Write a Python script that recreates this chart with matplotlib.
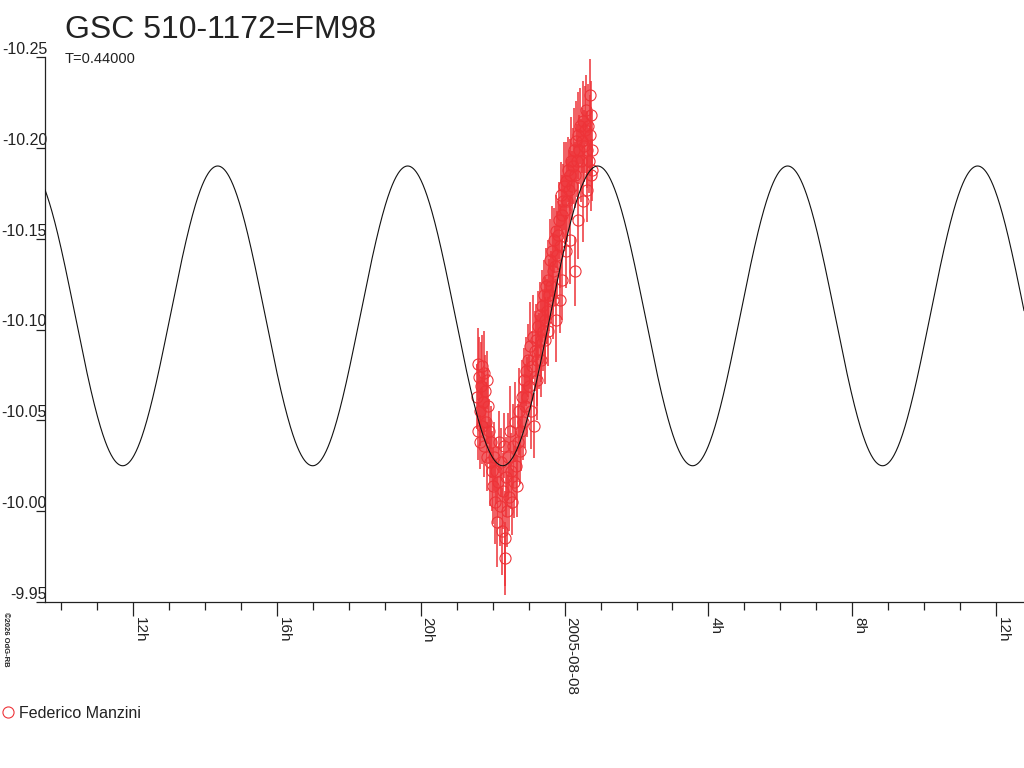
import numpy as np
import matplotlib
matplotlib.use("Agg")
import matplotlib.pyplot as plt
from matplotlib.lines import Line2D

# observation times, hours from 2005-08-08 00:00 UT
HOURS = [
    -2.444, -2.417, -2.417, -2.389, -2.361, -2.361, -2.333, -2.306, -2.306, -2.278,
    -2.250, -2.250, -2.222, -2.194, -2.167, -2.167, -2.139, -2.111, -2.083, -2.056,
    -2.028, -2.000, -1.972, -1.944, -1.917, -1.889, -1.861, -1.833, -1.806, -1.778,
    -1.750, -1.722, -1.694, -1.667, -1.667, -1.639, -1.611, -1.583, -1.556, -1.528,
    -1.500, -1.472, -1.444, -1.417, -1.389, -1.361, -1.333, -1.306, -1.278, -1.250,
    -1.222, -1.194, -1.167, -1.139, -1.111, -1.083, -1.056, -1.028, -1.000, -0.972,
    -0.944, -0.917, -0.889, -0.861, -0.833, -0.806, -0.778, -0.750, -0.722, -0.694,
    -0.667, -0.639, -0.611, -0.583, -0.556, -0.528, -0.500, -0.472, -0.444, -0.417,
    -0.389, -0.361, -0.333, -0.306, -0.278, -0.250, -0.222, -0.194, -0.167, -0.139,
    -0.111, -0.083, -0.056, -0.028, 0.000, 0.028, 0.056, 0.083, 0.111, 0.139,
    0.167, 0.194, 0.222, 0.250, 0.278, 0.306, 0.333, 0.361, 0.389, 0.417,
    0.444, 0.472, 0.500, 0.528, 0.556, 0.583, 0.611, 0.639, 0.667, 0.694,
    0.694, 0.722, 0.750, 0.750, -0.778, -0.667, -0.556, -0.472, -0.333, -0.250,
    -0.139, -0.083, 0.028, 0.139, 0.278, 0.361, 0.500, 0.611, 0.722,
]
MAGS = [
    -10.063, -10.081, -10.044, -10.074, -10.055, -10.038, -10.069, -10.080, -10.047, -10.060,
    -10.076, -10.036, -10.066, -10.049, -10.072, -10.030, -10.058, -10.044, -10.027, -10.038,
    -10.022, -10.014, -10.030, -10.005, -10.022, -9.994, -10.016, -10.038, -10.003, -10.027,
    -9.989, -10.011, -10.036, -9.974, -9.985, -10.019, -10.000, -10.030, -10.008, -10.044,
    -10.022, -10.005, -10.036, -10.016, -10.049, -10.025, -10.014, -10.038, -10.055, -10.033,
    -10.044, -10.063, -10.049, -10.072, -10.058, -10.077, -10.063, -10.083, -10.069, -10.091,
    -10.055, -10.080, -10.096, -10.047, -10.088, -10.094, -10.083, -10.102, -10.088, -10.108,
    -10.094, -10.113, -10.099, -10.119, -10.105, -10.124, -10.110, -10.127, -10.119, -10.138,
    -10.124, -10.143, -10.132, -10.149, -10.135, -10.154, -10.141, -10.152, -10.160, -10.146,
    -10.174, -10.163, -10.171, -10.179, -10.166, -10.182, -10.171, -10.188, -10.177, -10.185,
    -10.193, -10.179, -10.190, -10.199, -10.185, -10.204, -10.193, -10.207, -10.199, -10.212,
    -10.193, -10.204, -10.215, -10.201, -10.210, -10.221, -10.199, -10.212, -10.193, -10.229,
    -10.207, -10.218, -10.188, -10.199, -10.072, -10.083, -10.094, -10.099, -10.116, -10.105,
    -10.116, -10.127, -10.143, -10.149, -10.132, -10.160, -10.171, -10.177, -10.185,
]
ERRS = [
    0.018, 0.020, 0.016, 0.022, 0.019, 0.015, 0.024, 0.017, 0.021, 0.018,
    0.023, 0.017, 0.020, 0.022, 0.016, 0.019, 0.021, 0.018, 0.024, 0.020,
    0.022, 0.021, 0.019, 0.023, 0.018, 0.025, 0.020, 0.017, 0.022, 0.019,
    0.024, 0.021, 0.018, 0.020, 0.026, 0.022, 0.020, 0.024, 0.019, 0.025,
    0.021, 0.018, 0.023, 0.020, 0.022, 0.019, 0.017, 0.021, 0.024, 0.018,
    0.022, 0.020, 0.021, 0.018, 0.023, 0.019, 0.022, 0.020, 0.017, 0.024,
    0.021, 0.019, 0.023, 0.018, 0.022, 0.020, 0.025, 0.019, 0.021, 0.018,
    0.023, 0.020, 0.022, 0.019, 0.024, 0.021, 0.018, 0.022, 0.020, 0.023,
    0.019, 0.025, 0.021, 0.018, 0.022, 0.020, 0.024, 0.019, 0.021, 0.023,
    0.018, 0.022, 0.020, 0.024, 0.019, 0.021, 0.023, 0.018, 0.022, 0.020,
    0.024, 0.019, 0.021, 0.023, 0.018, 0.022, 0.020, 0.024, 0.019, 0.021,
    0.023, 0.018, 0.022, 0.020, 0.024, 0.019, 0.021, 0.023, 0.018, 0.020,
    0.022, 0.019, 0.017, 0.021, 0.022, 0.020, 0.024, 0.019, 0.021, 0.023,
    0.018, 0.022, 0.020, 0.024, 0.019, 0.021, 0.023, 0.018, 0.020,
]

# light-curve model (period T in days, double wave)
PERIOD_D = 0.44
MODEL_MEAN = -10.1075
MODEL_AMP = 0.0825
MODEL_TMIN = -1.72   # hours, time of a minimum

TITLE = "GSC 510-1172=FM98"
SUBTITLE = "T=0.44000"
OBSERVER = "Federico Manzini"
YTICKS = [-10.25, -10.20, -10.15, -10.10, -10.05, -10.00, -9.95]
XMAJOR = [-12, -8, -4, 0, 4, 8, 12]
XLABELS = ["12h", "16h", "20h", "2005-08-08", "4h", "8h", "12h"]
XLIM = (-14.44, 12.77)

RED = "#EE3338"
INK = "#222222"

plt.rcParams.update({"font.family": ["Liberation Sans", "DejaVu Sans"],
                     "text.color": INK, "axes.edgecolor": INK,
                     "xtick.color": INK, "ytick.color": INK})

fig = plt.figure(figsize=(10.24, 7.68), dpi=100)
ax = fig.add_axes([45 / 1024, 1 - 602 / 768, 1 - 45 / 1024, (602 - 57) / 768])

tt = np.linspace(XLIM[0], XLIM[1], 2000)
half = PERIOD_D * 24 / 2
model = MODEL_MEAN + MODEL_AMP * np.cos(2 * np.pi * (tt - MODEL_TMIN) / half)
ax.plot(tt, model, color="#111111", lw=0.8, zorder=3)

ax.errorbar(HOURS, MAGS, yerr=ERRS, fmt="o", mfc="none", mec=RED, ecolor=RED,
            ms=8, mew=0.8, elinewidth=1.1, capsize=0, zorder=2)

ax.set_xlim(*XLIM)
ax.set_ylim(-9.95, -10.25)
for s in ("top", "right"):
    ax.spines[s].set_visible(False)
ax.spines["left"].set_linewidth(0.9)
ax.spines["bottom"].set_linewidth(0.9)

ax.set_yticks(YTICKS)
ax.set_yticklabels(["%.2f" % v for v in YTICKS], fontsize=11.5)
ax.tick_params(axis="y", direction="out", length=6.5, width=0.9, pad=-8)
for lab in ax.get_yticklabels():
    lab.set_verticalalignment("bottom")

ax.set_xticks(XMAJOR)
ax.set_xticks(np.arange(-14, 13, 1), minor=True)
ax.set_xticklabels(XLABELS, fontsize=11)
ax.tick_params(axis="x", which="major", direction="out", length=10, width=0.9, pad=1)
ax.tick_params(axis="x", which="minor", direction="out", length=6, width=0.9)
for lab in ax.get_xticklabels():
    lab.set_rotation(-90)
    lab.set_rotation_mode("anchor")
    lab.set_horizontalalignment("left")
    lab.set_verticalalignment("bottom")

fig.text(65 / 1024, 1 - 38 / 768, TITLE, fontsize=23, va="baseline", ha="left")
fig.text(65 / 1024, 1 - 63 / 768, SUBTITLE, fontsize=10.5, va="baseline", ha="left")
fig.text(2 / 1024, 1 - 612 / 768, "\u00a92026 OdG-RB", fontsize=5.5, weight="bold",
         rotation=-90, va="top", ha="left")

handle = Line2D([], [], marker="o", ls="", mfc="none", mec=RED, ms=8, mew=0.8)
fig.legend(handles=[handle], labels=[OBSERVER], loc="center left",
           bbox_to_anchor=(0, 1 - 713 / 768), frameon=False, fontsize=11.5,
           handlelength=0.8, handletextpad=0.3, borderpad=0, borderaxespad=0.1)

fig.savefig("out.png", dpi=100)
